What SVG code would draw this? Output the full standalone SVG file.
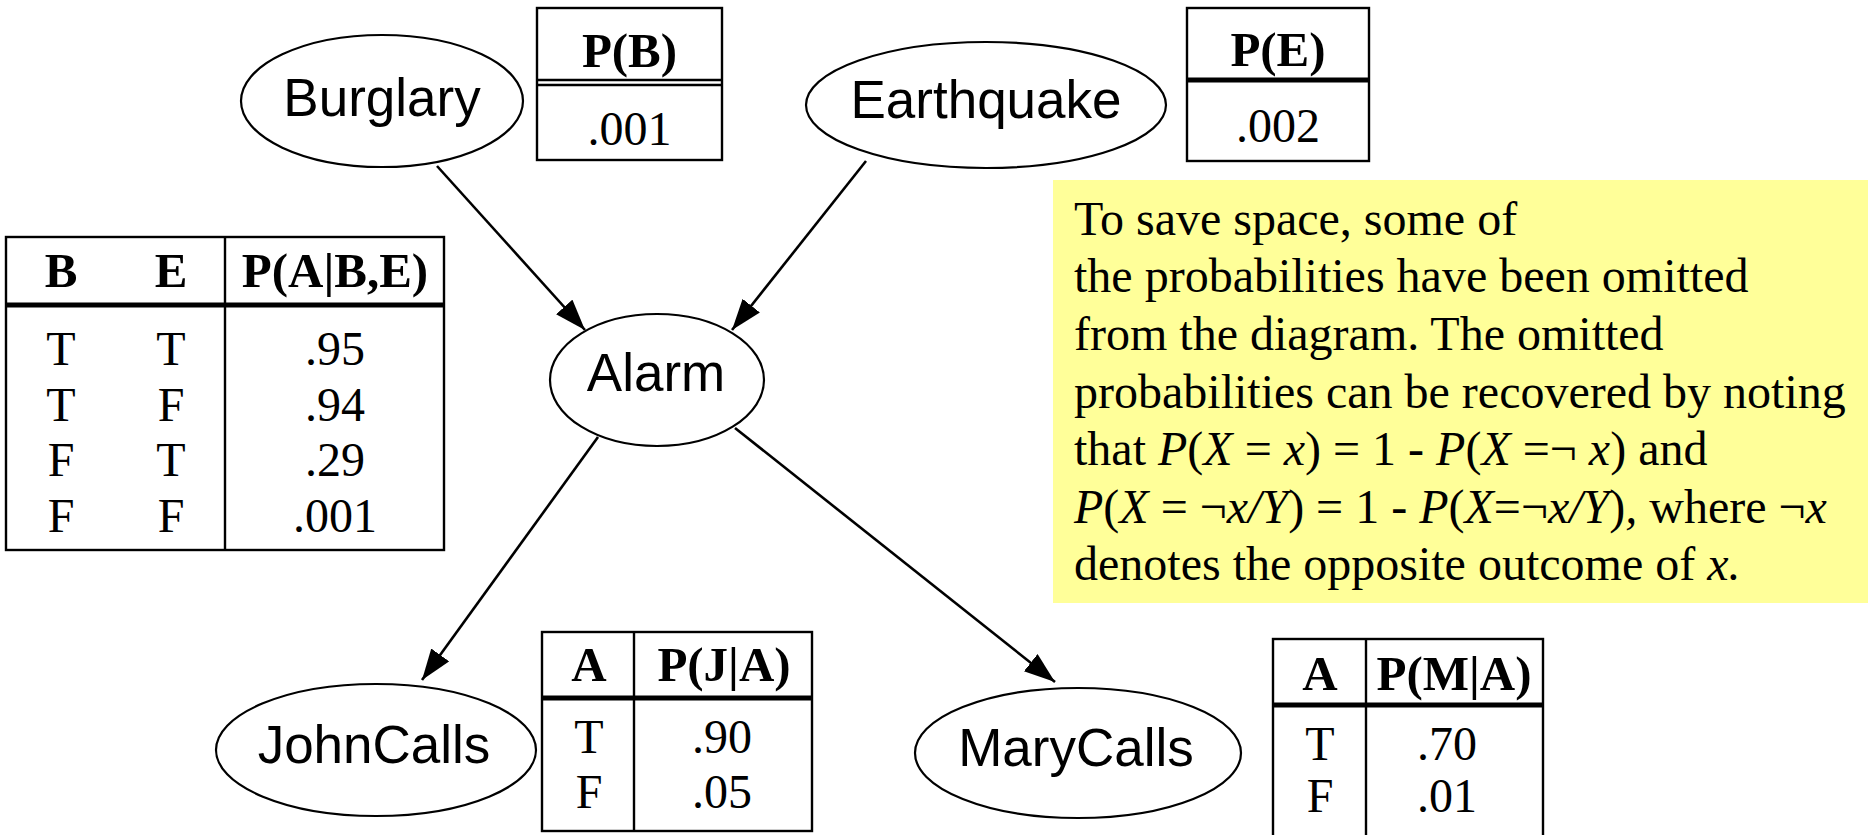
<svg xmlns="http://www.w3.org/2000/svg" width="1868" height="835" viewBox="0 0 1868 835">
<style>
.node ellipse{fill:#fff;stroke:#000;stroke-width:2.2}
.lbl{font-family:"Liberation Sans",Arial,sans-serif;font-size:53px;text-anchor:middle;fill:#000}
.tb rect{fill:#fff;stroke:#000;stroke-width:2.4}
.tb line{stroke:#000;stroke-width:2.4}
.tb line.thick{stroke-width:5}
.th{font-family:"Liberation Serif","Times New Roman",serif;font-size:49px;font-weight:bold;text-anchor:middle;fill:#000}
.td{font-family:"Liberation Serif","Times New Roman",serif;font-size:48px;text-anchor:middle;fill:#000}
.note{font-family:"Liberation Serif","Times New Roman",serif;font-size:48px;fill:#000}
.it{font-style:italic}
.edge{stroke:#000;stroke-width:2.6;fill:none;marker-end:url(#arr)}
</style>
<defs>
<marker id="arr" markerUnits="userSpaceOnUse" markerWidth="32" markerHeight="24" refX="31" refY="11" orient="auto">
<path d="M0,0 L31,11 L0,22 z" fill="#000"/>
</marker>
</defs>
<rect width="1868" height="835" fill="#fff"/>

<g id="note">
<rect x="1053" y="180" width="815" height="423" fill="#FFFF99"/>
<text class="note" x="1074" y="235">To save space, some of</text>
<text class="note" x="1074" y="292">the probabilities have been omitted</text>
<text class="note" x="1074" y="350">from the diagram. The omitted</text>
<text class="note" x="1074" y="408">probabilities can be recovered by noting</text>
<text class="note" x="1074" y="465">that <tspan class="it">P</tspan>(<tspan class="it">X</tspan> = <tspan class="it">x</tspan>) = 1 - <tspan class="it">P</tspan>(<tspan class="it">X</tspan> =¬ <tspan class="it">x</tspan>) and</text>
<text class="note" x="1074" y="523"><tspan class="it">P</tspan>(<tspan class="it">X</tspan> = ¬<tspan class="it">x/Y</tspan>) = 1 - <tspan class="it">P</tspan>(<tspan class="it">X</tspan>=¬<tspan class="it">x/Y</tspan>)<tspan class="it">,</tspan> where ¬<tspan class="it">x</tspan></text>
<text class="note" x="1074" y="580">denotes the opposite outcome of <tspan class="it">x.</tspan></text>
</g>

<g id="connectors">
<line class="edge" x1="437" y1="166" x2="585" y2="330"/>
<line class="edge" x1="866" y1="161" x2="732" y2="330"/>
<line class="edge" x1="598" y1="437" x2="422" y2="680"/>
<line class="edge" x1="735" y1="428" x2="1055" y2="682"/>
</g>

<g id="burglary" class="node">
<ellipse cx="382" cy="101" rx="141" ry="66"/>
<text class="lbl" x="382" y="116">Burglary</text>
</g>
<g id="earthquake" class="node">
<ellipse cx="986" cy="105" rx="180" ry="63"/>
<text class="lbl" x="986" y="118">Earthquake</text>
</g>
<g id="alarm" class="node">
<ellipse cx="657" cy="380" rx="107" ry="66"/>
<text class="lbl" x="656" y="391">Alarm</text>
</g>
<g id="johncalls" class="node">
<ellipse cx="376" cy="750" rx="160" ry="66"/>
<text class="lbl" x="374" y="763">JohnCalls</text>
</g>
<g id="marycalls" class="node">
<ellipse cx="1078" cy="753" rx="163" ry="65"/>
<text class="lbl" x="1076" y="766">MaryCalls</text>
</g>

<g id="table-pb" class="tb">
<rect x="537" y="8" width="185" height="152"/>
<line x1="537" y1="80" x2="722" y2="80"/>
<line x1="537" y1="85" x2="722" y2="85"/>
<text class="th" x="629.5" y="67">P(B)</text>
<text class="td" x="629.5" y="145">.001</text>
</g>

<g id="table-pe" class="tb">
<rect x="1187" y="8" width="182" height="153"/>
<line class="thick" x1="1187" y1="80" x2="1369" y2="80"/>
<text class="th" x="1278" y="66">P(E)</text>
<text class="td" x="1278" y="142">.002</text>
</g>

<g id="table-pa" class="tb">
<rect x="6" y="237" width="438" height="313"/>
<line x1="225" y1="237" x2="225" y2="550"/>
<line class="thick" x1="6" y1="305" x2="444" y2="305"/>
<text class="th" x="61" y="287">B</text>
<text class="th" x="171" y="287">E</text>
<text class="th" x="335" y="287">P(A|B,E)</text>
<text class="td" x="61" y="365">T</text><text class="td" x="171" y="365">T</text><text class="td" x="335" y="365">.95</text>
<text class="td" x="61" y="421">T</text><text class="td" x="171" y="421">F</text><text class="td" x="335" y="421">.94</text>
<text class="td" x="61" y="476">F</text><text class="td" x="171" y="476">T</text><text class="td" x="335" y="476">.29</text>
<text class="td" x="61" y="532">F</text><text class="td" x="171" y="532">F</text><text class="td" x="335" y="532">.001</text>
</g>

<g id="table-pj" class="tb">
<rect x="542" y="632" width="270" height="199"/>
<line x1="634" y1="632" x2="634" y2="831"/>
<line class="thick" x1="542" y1="698" x2="812" y2="698"/>
<text class="th" x="589" y="681">A</text>
<text class="th" x="724" y="681">P(J|A)</text>
<text class="td" x="589" y="753">T</text><text class="td" x="722" y="753">.90</text>
<text class="td" x="589" y="808">F</text><text class="td" x="722" y="808">.05</text>
</g>

<g id="table-pm" class="tb">
<rect x="1273" y="639" width="270" height="220"/>
<line x1="1366" y1="639" x2="1366" y2="859"/>
<line class="thick" x1="1273" y1="705" x2="1543" y2="705"/>
<text class="th" x="1320" y="690">A</text>
<text class="th" x="1454" y="690">P(M|A)</text>
<text class="td" x="1320" y="760">T</text><text class="td" x="1447" y="760">.70</text>
<text class="td" x="1320" y="812">F</text><text class="td" x="1447" y="812">.01</text>
</g>
</svg>
